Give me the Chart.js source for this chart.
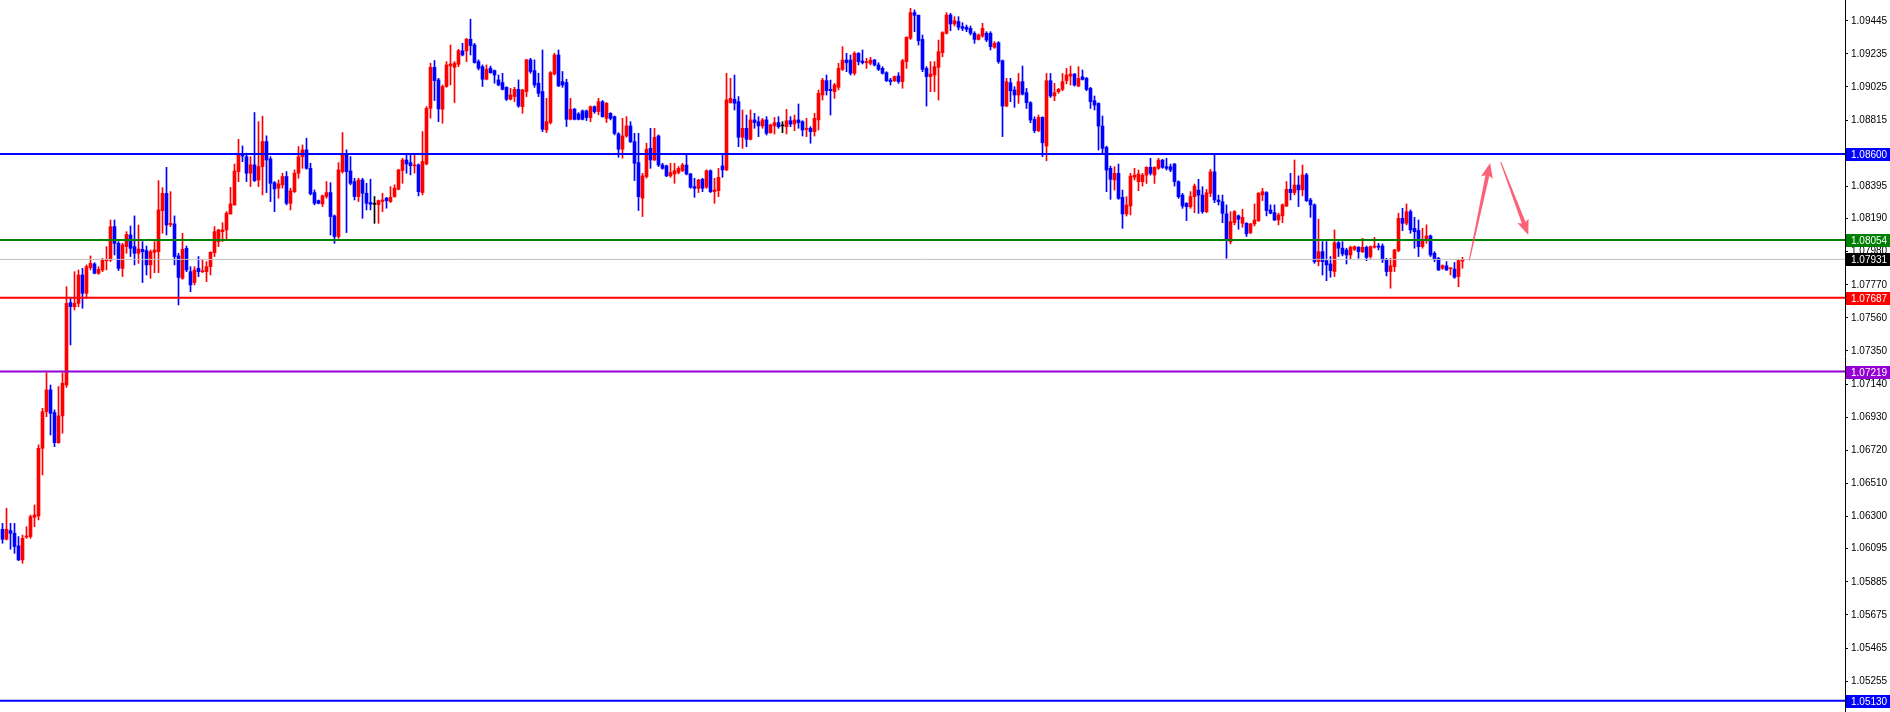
<!DOCTYPE html>
<html>
<head>
<meta charset="utf-8">
<script src="https://cdn.jsdelivr.net/npm/chart.js"></script>
<style>
  html, body { margin: 0; padding: 0; background: #fff; }
</style>
</head>
<body>
<canvas id="myChart" width="1890" height="712"></canvas>
<script>
// EURUSD-style candles, oldest first
const opens = [
  1.06218,1.06155,1.06210,1.06193,1.06113,1.06024,1.06168,1.06172,1.06295,1.06303,
  1.06732,1.06965,1.07103,1.06959,1.06768,1.06938,1.07134,1.07657,1.07631,1.07652,
  1.07832,1.07716,1.07879,1.07902,1.07843,1.07864,1.07923,1.07927,1.08139,1.08033,
  1.07874,1.08012,1.08086,1.08012,1.07970,1.07995,1.07987,1.07896,1.07976,1.07980,
  1.08240,1.08350,1.08152,1.08156,1.07953,1.07811,1.08001,1.07853,1.07784,1.07874,
  1.07853,1.07853,1.07885,1.07974,1.08044,1.08107,1.08118,1.08219,1.08276,1.08488,
  1.08600,1.08583,1.08478,1.08531,1.08435,1.08520,1.08679,1.08569,1.08418,1.08383,
  1.08404,1.08457,1.08287,1.08361,1.08478,1.08583,1.08626,1.08509,1.08355,1.08304,
  1.08283,1.08330,1.08355,1.08207,1.08076,1.08488,1.08600,1.08492,1.08425,1.08330,
  1.08435,1.08351,1.08292,1.08281,1.08279,1.08298,1.08319,1.08298,1.08330,1.08376,
  1.08495,1.08562,1.08545,1.08524,1.08531,1.08355,1.08537,1.08890,1.09150,1.09070,
  1.08884,1.09028,1.09159,1.09150,1.09169,1.09254,1.09254,1.09328,1.09292,1.09186,
  1.09154,1.09074,1.09144,1.09129,1.09070,1.09053,1.09023,1.08947,1.08964,1.09010,
  1.08900,1.08996,1.09197,1.09129,1.09049,1.08996,1.08752,1.08799,1.09108,1.09228,
  1.09059,1.09053,1.08820,1.08884,1.08854,1.08873,1.08873,1.08831,1.08900,1.08869,
  1.08932,1.08826,1.08858,1.08837,1.08727,1.08630,1.08714,1.08778,1.08678,1.08545,
  1.08319,1.08456,1.08636,1.08562,1.08714,1.08530,1.08524,1.08461,1.08473,1.08482,
  1.08494,1.08530,1.08473,1.08393,1.08382,1.08439,1.08389,1.08494,1.08361,1.08367,
  1.08524,1.08499,1.08926,1.08947,1.08932,1.08706,1.08763,1.08693,1.08816,1.08805,
  1.08778,1.08816,1.08735,1.08778,1.08799,1.08778,1.08773,1.08811,1.08790,1.08816,
  1.08805,1.08756,1.08763,1.08742,1.08816,1.08974,1.09065,1.09010,1.08995,1.09023,
  1.09137,1.09196,1.09196,1.09112,1.09239,1.09190,1.09179,1.09175,1.09196,1.09165,
  1.09143,1.09116,1.09069,1.09065,1.09095,1.09059,1.09186,1.09334,1.09497,1.09480,
  1.09327,1.09143,1.09091,1.09101,1.09150,1.09243,1.09366,1.09482,1.09425,1.09440,
  1.09408,1.09404,1.09397,1.09366,1.09327,1.09349,1.09366,1.09366,1.09277,1.09306,
  1.09192,1.08904,1.09052,1.09006,1.08974,1.09059,1.08989,1.08925,1.08819,1.08748,
  1.08832,1.08650,1.09065,1.08968,1.08995,1.09010,1.09065,1.09094,1.09107,1.09031,
  1.09090,1.09080,1.09016,1.08938,1.08921,1.08777,1.08642,1.08509,1.08435,1.08477,
  1.08325,1.08219,1.08270,1.08452,1.08424,1.08424,1.08466,1.08515,1.08466,1.08509,
  1.08561,1.08519,1.08519,1.08536,1.08424,1.08339,1.08287,1.08265,1.08329,1.08371,
  1.08339,1.08234,1.08350,1.08487,1.08308,1.08297,1.08220,1.08044,1.08164,1.08207,
  1.08160,1.08160,1.08101,1.08156,1.08177,1.08340,1.08355,1.08245,1.08228,1.08181,
  1.08207,1.08270,1.08376,1.08355,1.08403,1.08372,1.08467,1.08308,1.08277,1.07917,
  1.07980,1.07923,1.07902,1.07854,1.08037,1.08002,1.07991,1.07959,1.07995,1.08008,
  1.07980,1.08008,1.07949,1.08008,1.08016,1.08016,1.07928,1.07854,1.07885,1.07987,
  1.08192,1.08160,1.08234,1.08128,1.08114,1.08012,1.08050,1.08080,1.07970,1.07938,
  1.07875,1.07890,1.07872,1.07870,1.07822,1.07920
];
const highs = [
  1.06256,1.06352,1.06256,1.06256,1.06172,1.06182,1.06235,1.06309,1.06373,1.06754,
  1.06986,1.07212,1.07134,1.06976,1.07124,1.07212,1.07758,1.07684,1.07853,1.07864,
  1.07874,1.07896,1.07953,1.07910,1.07885,1.07938,1.08012,1.08181,1.08181,1.08044,
  1.08033,1.08107,1.08143,1.08207,1.08149,1.08044,1.08016,1.07991,1.08044,1.08431,
  1.08386,1.08515,1.08361,1.08207,1.07970,1.08097,1.08016,1.07885,1.07885,1.07949,
  1.07927,1.07917,1.07980,1.08139,1.08122,1.08164,1.08234,1.08388,1.08536,1.08693,
  1.08651,1.08605,1.08583,1.08863,1.08805,1.08840,1.08715,1.08583,1.08425,1.08435,
  1.08478,1.08488,1.08383,1.08499,1.08647,1.08657,1.08700,1.08541,1.08372,1.08308,
  1.08340,1.08425,1.08418,1.08213,1.08545,1.08736,1.08626,1.08583,1.08446,1.08446,
  1.08446,1.08414,1.08440,1.08330,1.08308,1.08351,1.08325,1.08393,1.08404,1.08503,
  1.08573,1.08594,1.08594,1.08594,1.08537,1.08742,1.08901,1.09176,1.09193,1.09080,
  1.09038,1.09186,1.09292,1.09186,1.09264,1.09302,1.09334,1.09455,1.09302,1.09197,
  1.09165,1.09165,1.09158,1.09133,1.09101,1.09112,1.09027,1.09017,1.09023,1.09070,
  1.09010,1.09201,1.09207,1.09197,1.09112,1.09260,1.08953,1.09123,1.09239,1.09260,
  1.09123,1.09074,1.08953,1.08890,1.08862,1.08879,1.08879,1.08905,1.08905,1.08953,
  1.08939,1.08926,1.08862,1.08841,1.08735,1.08826,1.08837,1.08805,1.08731,1.08731,
  1.08477,1.08668,1.08763,1.08763,1.08721,1.08541,1.08530,1.08541,1.08541,1.08520,
  1.08541,1.08594,1.08477,1.08446,1.08439,1.08446,1.08499,1.08499,1.08446,1.08509,
  1.08604,1.09112,1.09080,1.09101,1.08964,1.08879,1.08847,1.08879,1.08858,1.08837,
  1.08826,1.08837,1.08790,1.08832,1.08837,1.08805,1.08883,1.08837,1.08847,1.08917,
  1.08811,1.08826,1.08773,1.08858,1.09006,1.09080,1.09101,1.09069,1.09048,1.09175,
  1.09281,1.09239,1.09228,1.09249,1.09243,1.09260,1.09207,1.09213,1.09200,1.09179,
  1.09154,1.09122,1.09080,1.09095,1.09116,1.09200,1.09344,1.09524,1.09514,1.09482,
  1.09355,1.09154,1.09186,1.09186,1.09323,1.09376,1.09497,1.09492,1.09471,1.09471,
  1.09433,1.09418,1.09412,1.09376,1.09361,1.09429,1.09376,1.09376,1.09313,1.09313,
  1.09196,1.09080,1.09080,1.09027,1.09111,1.09158,1.09016,1.08932,1.08836,1.08847,
  1.08836,1.09111,1.09111,1.09048,1.09016,1.09111,1.09143,1.09158,1.09111,1.09154,
  1.09133,1.09086,1.09023,1.08968,1.08925,1.08841,1.08650,1.08523,1.08519,1.08536,
  1.08371,1.08329,1.08477,1.08509,1.08498,1.08477,1.08519,1.08572,1.08519,1.08572,
  1.08566,1.08572,1.08536,1.08540,1.08430,1.08350,1.08291,1.08361,1.08409,1.08439,
  1.08392,1.08375,1.08502,1.08593,1.08339,1.08339,1.08277,1.08234,1.08241,1.08213,
  1.08249,1.08164,1.08160,1.08283,1.08355,1.08382,1.08361,1.08277,1.08277,1.08224,
  1.08283,1.08425,1.08477,1.08562,1.08461,1.08530,1.08477,1.08319,1.08283,1.08186,
  1.08044,1.08044,1.07949,1.08118,1.08044,1.08044,1.08002,1.08016,1.08016,1.08012,
  1.08065,1.08016,1.08016,1.08071,1.08033,1.08029,1.07938,1.07938,1.07995,1.08224,
  1.08255,1.08283,1.08245,1.08198,1.08181,1.08128,1.08150,1.08086,1.07980,1.07944,
  1.07896,1.07917,1.07875,1.07911,1.07932,1.07944
];
const lows = [
  1.06130,1.06151,1.06092,1.06066,1.06020,1.06003,1.06161,1.06161,1.06235,1.06278,
  1.06563,1.06933,1.06817,1.06743,1.06764,1.06828,1.07119,1.07388,1.07610,1.07631,
  1.07621,1.07684,1.07864,1.07839,1.07836,1.07853,1.07864,1.07917,1.07959,1.07860,
  1.07822,1.07970,1.07949,1.07896,1.07906,1.07784,1.07832,1.07811,1.07847,1.07847,
  1.08097,1.08086,1.08139,1.07896,1.07642,1.07805,1.07853,1.07726,1.07769,1.07822,
  1.07847,1.07790,1.07832,1.07949,1.08012,1.08044,1.08054,1.08219,1.08276,1.08424,
  1.08551,1.08425,1.08393,1.08425,1.08393,1.08340,1.08355,1.08298,1.08234,1.08319,
  1.08383,1.08277,1.08245,1.08355,1.08446,1.08509,1.08503,1.08340,1.08277,1.08283,
  1.08266,1.08319,1.08086,1.08033,1.08065,1.08478,1.08101,1.08404,1.08308,1.08298,
  1.08192,1.08245,1.08245,1.08160,1.08160,1.08234,1.08256,1.08292,1.08325,1.08372,
  1.08414,1.08478,1.08467,1.08478,1.08334,1.08340,1.08531,1.08827,1.08939,1.08805,
  1.08795,1.09023,1.09038,1.08926,1.09154,1.09222,1.09186,1.09228,1.09176,1.09133,
  1.09028,1.09070,1.09112,1.09049,1.09032,1.09006,1.08939,1.08943,1.08932,1.08896,
  1.08858,1.08964,1.09112,1.09023,1.08964,1.08742,1.08735,1.08790,1.09101,1.09027,
  1.09023,1.08774,1.08816,1.08816,1.08816,1.08816,1.08812,1.08805,1.08858,1.08848,
  1.08833,1.08799,1.08816,1.08721,1.08579,1.08573,1.08706,1.08672,1.08431,1.08241,
  1.08203,1.08446,1.08509,1.08558,1.08520,1.08503,1.08456,1.08452,1.08414,1.08473,
  1.08488,1.08467,1.08382,1.08325,1.08355,1.08361,1.08382,1.08355,1.08287,1.08329,
  1.08452,1.08494,1.08922,1.08879,1.08646,1.08636,1.08646,1.08689,1.08763,1.08710,
  1.08763,1.08720,1.08731,1.08727,1.08763,1.08735,1.08727,1.08773,1.08748,1.08763,
  1.08714,1.08710,1.08668,1.08714,1.08752,1.08942,1.08974,1.08847,1.08953,1.09006,
  1.09129,1.09122,1.09101,1.09101,1.09165,1.09171,1.09143,1.09165,1.09158,1.09129,
  1.09107,1.09059,1.09038,1.09059,1.09048,1.09017,1.09143,1.09327,1.09376,1.09291,
  1.09122,1.08904,1.08995,1.08995,1.08942,1.09217,1.09361,1.09382,1.09412,1.09387,
  1.09382,1.09376,1.09355,1.09302,1.09323,1.09340,1.09313,1.09260,1.09270,1.09175,
  1.08710,1.08900,1.08932,1.08896,1.08921,1.08974,1.08889,1.08798,1.08735,1.08741,
  1.08583,1.08557,1.08959,1.08938,1.08985,1.09001,1.09044,1.09037,1.09031,1.09027,
  1.09069,1.09001,1.08889,1.08879,1.08625,1.08608,1.08361,1.08312,1.08371,1.08312,
  1.08128,1.08206,1.08213,1.08435,1.08367,1.08396,1.08413,1.08466,1.08413,1.08502,
  1.08509,1.08498,1.08487,1.08396,1.08318,1.08255,1.08177,1.08255,1.08227,1.08223,
  1.08223,1.08227,1.08329,1.08291,1.08276,1.08164,1.07938,1.08029,1.08150,1.08122,
  1.08135,1.08076,1.08093,1.08143,1.08171,1.08304,1.08207,1.08220,1.08177,1.08150,
  1.08164,1.08266,1.08308,1.08340,1.08266,1.08334,1.08298,1.08198,1.07906,1.07890,
  1.07832,1.07796,1.07818,1.07822,1.07949,1.07953,1.07902,1.07932,1.07987,1.07938,
  1.07974,1.07923,1.07938,1.08002,1.07991,1.07911,1.07826,1.07748,1.07854,1.07980,
  1.08114,1.08150,1.08097,1.08002,1.07949,1.08002,1.08033,1.07949,1.07917,1.07860,
  1.07868,1.07860,1.07832,1.07811,1.07758,1.07875
];
const closes = [
  1.06155,1.06218,1.06193,1.06109,1.06024,1.06161,1.06176,1.06299,1.06309,1.06732,
  1.06965,1.07103,1.06954,1.06768,1.06938,1.07145,1.07652,1.07631,1.07652,1.07832,
  1.07716,1.07885,1.07906,1.07843,1.07868,1.07927,1.07927,1.08139,1.08033,1.07874,
  1.08023,1.08090,1.08001,1.07970,1.07997,1.07980,1.07896,1.07980,1.07991,1.08245,
  1.08350,1.08149,1.08160,1.07949,1.07817,1.07995,1.07864,1.07769,1.07864,1.07853,
  1.07860,1.07885,1.07976,1.08107,1.08118,1.08118,1.08224,1.08283,1.08492,1.08598,
  1.08587,1.08478,1.08531,1.08431,1.08520,1.08679,1.08562,1.08414,1.08378,1.08410,
  1.08457,1.08287,1.08366,1.08478,1.08583,1.08626,1.08509,1.08347,1.08287,1.08287,
  1.08334,1.08355,1.08203,1.08076,1.08499,1.08594,1.08488,1.08414,1.08330,1.08435,
  1.08351,1.08287,1.08281,1.08281,1.08304,1.08308,1.08304,1.08325,1.08383,1.08499,
  1.08562,1.08537,1.08526,1.08531,1.08361,1.08552,1.08890,1.09150,1.09066,1.08886,
  1.09028,1.09165,1.09171,1.09176,1.09256,1.09228,1.09328,1.09288,1.09180,1.09144,
  1.09074,1.09138,1.09116,1.09101,1.09038,1.09010,1.08947,1.08974,1.09010,1.08905,
  1.09006,1.09197,1.09123,1.09038,1.08985,1.08757,1.08805,1.09116,1.09228,1.09032,
  1.09038,1.08820,1.08884,1.08820,1.08820,1.08820,1.08831,1.08900,1.08869,1.08932,
  1.08837,1.08922,1.08826,1.08731,1.08630,1.08714,1.08778,1.08678,1.08541,1.08329,
  1.08461,1.08630,1.08562,1.08706,1.08530,1.08509,1.08461,1.08482,1.08494,1.08509,
  1.08530,1.08473,1.08389,1.08382,1.08435,1.08382,1.08494,1.08361,1.08372,1.08452,
  1.08499,1.08943,1.08953,1.08922,1.08706,1.08763,1.08693,1.08816,1.08799,1.08778,
  1.08816,1.08731,1.08784,1.08799,1.08773,1.08778,1.08811,1.08790,1.08816,1.08799,
  1.08752,1.08763,1.08742,1.08826,1.08985,1.09069,1.09002,1.09002,1.09038,1.09143,
  1.09196,1.09179,1.09112,1.09239,1.09186,1.09179,1.09186,1.09196,1.09165,1.09137,
  1.09112,1.09065,1.09059,1.09091,1.09059,1.09192,1.09340,1.09497,1.09480,1.09319,
  1.09137,1.09091,1.09107,1.09154,1.09249,1.09370,1.09482,1.09425,1.09446,1.09404,
  1.09397,1.09391,1.09366,1.09327,1.09355,1.09397,1.09323,1.09281,1.09302,1.09186,
  1.08904,1.09059,1.09001,1.08974,1.09059,1.08980,1.08925,1.08815,1.08748,1.08832,
  1.08671,1.09065,1.08968,1.08989,1.09010,1.09059,1.09101,1.09107,1.09037,1.09080,
  1.09073,1.09010,1.08932,1.08910,1.08777,1.08636,1.08498,1.08439,1.08477,1.08318,
  1.08219,1.08276,1.08460,1.08466,1.08473,1.08466,1.08515,1.08477,1.08515,1.08561,
  1.08515,1.08509,1.08498,1.08424,1.08329,1.08270,1.08265,1.08329,1.08396,1.08339,
  1.08234,1.08354,1.08487,1.08308,1.08297,1.08223,1.08054,1.08171,1.08234,1.08186,
  1.08198,1.08093,1.08156,1.08181,1.08351,1.08361,1.08241,1.08224,1.08181,1.08213,
  1.08277,1.08376,1.08355,1.08403,1.08372,1.08467,1.08304,1.08277,1.07917,1.07980,
  1.07917,1.07896,1.07860,1.08037,1.08002,1.07966,1.07959,1.08008,1.08012,1.07980,
  1.08008,1.07944,1.08012,1.08016,1.08008,1.07928,1.07854,1.07890,1.07991,1.08192,
  1.08160,1.08234,1.08118,1.08107,1.08012,1.08054,1.08080,1.07959,1.07932,1.07864,
  1.07892,1.07864,1.07875,1.07818,1.07923,1.07931
];

// right price axis
const tickValues = [1.09445, 1.09235, 1.09025, 1.08815, 1.08605, 1.08395, 1.08190, 1.07980,
  1.07770, 1.07560, 1.07350, 1.07140, 1.06930, 1.06720, 1.06510, 1.06300, 1.06095,
  1.05885, 1.05675, 1.05465, 1.05255];
const yMin = 1.05059;
const yMax = 1.09577;

// horizontal levels and their price tags
const levelPrices = [1.08600, 1.08054, 1.07931, 1.07687, 1.07219, 1.05130];
const levelLineColors = ['#0000ff', '#008000', '#c0c0c0', '#ff0000', '#9400d3', '#0000ff'];
const levelLineWidths = [2, 2, 1, 2, 2, 2];
const levelTagColors = ['#0000ff', '#008000', '#000000', '#ff0000', '#9400d3', '#0000ff'];

// forecast arrows, [bar index, price]
const arrowFrom = [[366.7, 1.07927], [374.55, 1.08549]];
const arrowTo = [[371.9, 1.08543], [381.45, 1.08086]];

const upColor = '#ff0000';
const downColor = '#0000ff';
const dojiColor = '#000000';

const xMin = -0.625;
const xMax = xMin + 1845 / 4;

const candleColors = opens.map((o, i) => closes[i] > o ? upColor : (closes[i] < o ? downColor : dojiColor));

const levelSets = levelPrices.map((p, k) => ({
  type: 'line',
  data: [{ x: xMin, y: p }, { x: xMax, y: p }],
  borderColor: levelLineColors[k],
  borderWidth: levelLineWidths[k],
  pointRadius: 0,
  order: 0
}));

const priceTags = {
  id: 'priceTags',
  afterDraw(chart) {
    const ctx = chart.ctx;
    const y = chart.scales.y;
    const left = chart.chartArea.right + 1;
    ctx.save();
    ctx.font = '10px "Liberation Sans", Arial, sans-serif';
    ctx.textBaseline = 'middle';
    levelPrices.forEach((p, k) => {
      const py = Math.round(y.getPixelForValue(p));
      ctx.fillStyle = levelTagColors[k];
      ctx.fillRect(left, py - 6, chart.width - left, 13);
      ctx.fillStyle = '#ffffff';
      ctx.fillText(p.toFixed(5), left + 5, py + 1);
    });
    ctx.restore();
  }
};

const arrows = {
  id: 'arrows',
  afterDatasetsDraw(chart) {
    const ctx = chart.ctx;
    const xs = chart.scales.x, ys = chart.scales.y;
    ctx.save();
    ctx.fillStyle = 'rgba(250,70,95,0.85)';
    arrowFrom.forEach((a, k) => {
      const x0 = xs.getPixelForValue(a[0]), y0 = ys.getPixelForValue(a[1]);
      const x1 = xs.getPixelForValue(arrowTo[k][0]), y1 = ys.getPixelForValue(arrowTo[k][1]);
      const dx = x1 - x0, dy = y1 - y0, len = Math.hypot(dx, dy);
      const ux = dx / len, uy = dy / len, nx = -uy, ny = ux;
      const head = 13, headW = 6, w0 = 0.5, w1 = 2;
      const bx = x1 - ux * head, by = y1 - uy * head;
      ctx.beginPath();
      ctx.moveTo(x0 + nx * w0, y0 + ny * w0);
      ctx.lineTo(bx + nx * w1, by + ny * w1);
      ctx.lineTo(bx + nx * headW - ux * 2, by + ny * headW - uy * 2);
      ctx.lineTo(x1, y1);
      ctx.lineTo(bx - nx * headW - ux * 2, by - ny * headW - uy * 2);
      ctx.lineTo(bx - nx * w1, by - ny * w1);
      ctx.lineTo(x0 - nx * w0, y0 - ny * w0);
      ctx.closePath();
      ctx.fill();
    });
    ctx.restore();
  }
};

new Chart(document.getElementById('myChart'), {
  type: 'bar',
  data: {
    datasets: [
      ...levelSets,
      {
        label: 'body',
        data: opens.map((o, i) => ({ x: i, y: [o, closes[i]] })),
        backgroundColor: candleColors,
        barThickness: 3,
        minBarLength: 1,
        grouped: false,
        order: 1
      },
      {
        label: 'wick',
        data: opens.map((o, i) => ({ x: i, y: [lows[i], highs[i]] })),
        backgroundColor: candleColors,
        barThickness: 1,
        grouped: false,
        order: 2
      }
    ]
  },
  options: {
    responsive: false,
    animation: false,
    events: [],
    layout: { padding: 0 },
    plugins: { legend: { display: false }, tooltip: { enabled: false } },
    scales: {
      x: { type: 'linear', min: xMin, max: xMax, offset: false, display: false },
      y: {
        position: 'right',
        min: yMin,
        max: yMax,
        afterBuildTicks: s => { s.ticks = tickValues.map(v => ({ value: v })); },
        afterFit: s => { s.width = 45; s.paddingTop = 0; s.paddingBottom = 0; },
        grid: { drawOnChartArea: false, drawTicks: true, tickLength: 3, color: '#000000' },
        border: { display: true, color: '#000000', width: 1 },
        ticks: {
          autoSkip: false,
          color: '#000000',
          padding: 3,
          font: { family: 'Liberation Sans', size: 10 },
          callback: v => v.toFixed(5)
        }
      }
    }
  },
  plugins: [priceTags, arrows]
});
</script>
</body>
</html>
